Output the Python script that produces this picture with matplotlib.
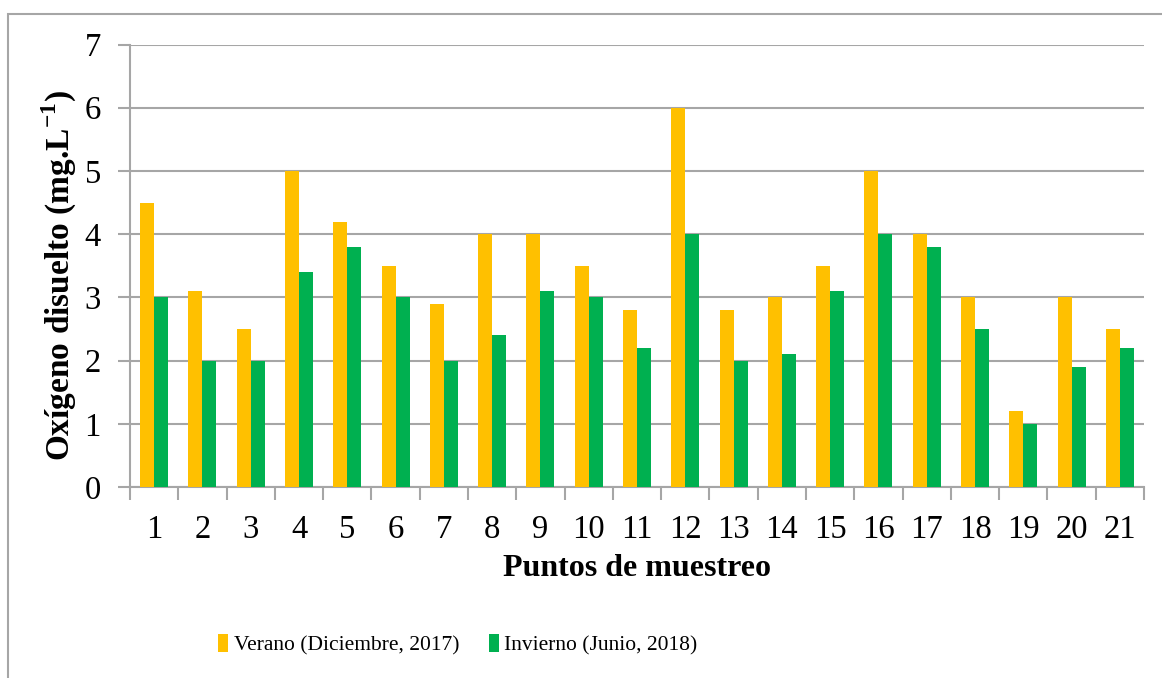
import matplotlib
matplotlib.use("Agg")
import matplotlib.pyplot as plt
import numpy as np
from matplotlib.patches import Rectangle

puntos = [str(i) for i in range(1, 22)]
verano = [4.5, 3.1, 2.5, 5.0, 4.2, 3.5, 2.9, 4.0, 4.0, 3.5, 2.8,
          6.0, 2.8, 3.0, 3.5, 5.0, 4.0, 3.0, 1.2, 3.0, 2.5]
invierno = [3.0, 2.0, 2.0, 3.4, 3.8, 3.0, 2.0, 2.4, 3.1, 3.0, 2.2,
            4.0, 2.0, 2.1, 3.1, 4.0, 3.8, 2.5, 1.0, 1.9, 2.2]
y_ticks = [0, 1, 2, 3, 4, 5, 6, 7]

plt.rcParams['font.family'] = ['Liberation Serif', 'DejaVu Serif']
plt.rcParams['mathtext.fontset'] = 'custom'
plt.rcParams['mathtext.bf'] = 'Liberation Serif:bold'
plt.rcParams['mathtext.rm'] = 'Liberation Serif:bold'

gray = '#A6A6A6'
W, H = 1162, 678
fig = plt.figure(figsize=(W / 100, H / 100), dpi=100)
ax = fig.add_axes([130 / W, 1 - 487 / H, (1144 - 130) / W, (487 - 44.5) / H])

x = np.arange(len(puntos))
bw = 0.29
ax.bar(x - bw / 2, verano, bw, color='#FFC000', label='Verano (Diciembre, 2017)', zorder=3)
ax.bar(x + bw / 2, invierno, bw, color='#00B050', label='Invierno (Junio, 2018)', zorder=3)

ax.set_xlim(-0.5, len(puntos) - 0.5)
ax.set_ylim(0, 7)
ax.set_yticks(y_ticks)
ax.yaxis.grid(True, color=gray, linewidth=1.5, zorder=0)
ax.set_axisbelow(True)

ax.set_xticks(x)
ax.set_xticklabels(puntos)
ax.set_xticks(np.arange(-0.5, len(puntos)), minor=True)
ax.tick_params(axis='x', which='major', length=0, labelsize=23.5, pad=20)
ax.tick_params(axis='x', which='minor', length=9, width=1.5, color=gray)
ax.tick_params(axis='y', length=9, width=1.5, color=gray, labelsize=23.5, pad=12)

for s in ['top', 'right']:
    ax.spines[s].set_visible(False)
for s in ['left', 'bottom']:
    ax.spines[s].set_color(gray)
    ax.spines[s].set_linewidth(1.5)

ax.set_xlabel('Puntos de muestreo', fontsize=23, fontweight='bold', labelpad=6)
ax.set_ylabel(r'Oxígeno disuelto (mg.L$^{\mathbf{-1}}$)', fontsize=24,
              fontweight='bold')
ax.yaxis.set_label_coords(-0.05, 0.478)

fig.legend(loc='center', bbox_to_anchor=(458 / W, 1 - 645 / H), ncol=2,
           frameon=False, fontsize=15.5, handlelength=0.45, handleheight=0.9,
           handletextpad=0.25, columnspacing=1.4)

fig.patches.append(Rectangle((8 / W, -0.1), 2, 1 - 14 / H + 0.1, transform=fig.transFigure,
                             fill=False, edgecolor=gray, linewidth=1.5))

fig.savefig('out.png', dpi=100)
